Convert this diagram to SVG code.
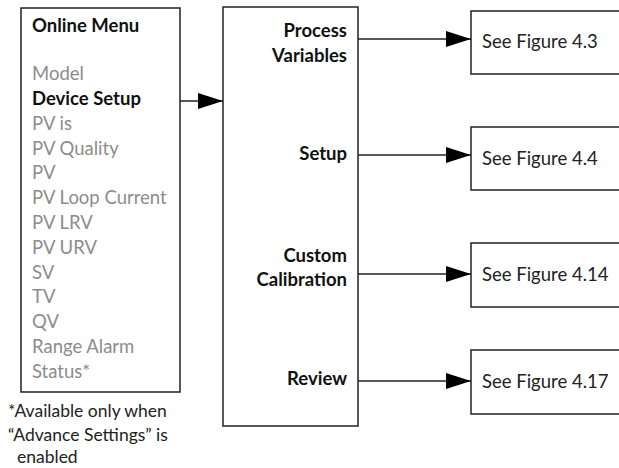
<svg xmlns="http://www.w3.org/2000/svg" width="619" height="468" viewBox="0 0 619 468">
<style>
.box{fill:#fff;stroke:#222;stroke-width:1.5}
.edge{fill:none;stroke:#222;stroke-width:1.3}
.t{font-family:Lato,"Liberation Sans",sans-serif;font-size:18.5px}
.f{font-size:17.5px}
.b{font-weight:bold;fill:#111}
.g{fill:#8c8c8c}
.k{fill:#222}
</style>
<defs>
<marker id="ah" markerUnits="userSpaceOnUse" markerWidth="25" markerHeight="16" refX="25" refY="8" orient="auto">
<path d="M0,0 L25,8 L0,16 Z" fill="#000"/>
</marker>
</defs>
<g id="online-menu">
<rect class="box" x="21" y="8" width="159" height="384"/>
<text class="t b" x="32" y="32">Online Menu</text>
<text class="t g" x="32" y="80">Model</text>
<text class="t b" x="32" y="105">Device Setup</text>
<text class="t g" x="32" y="129.7">PV is</text>
<text class="t g" x="32" y="154.5">PV Quality</text>
<text class="t g" x="32" y="179.3">PV</text>
<text class="t g" x="32" y="204">PV Loop Current</text>
<text class="t g" x="32" y="229">PV LRV</text>
<text class="t g" x="32" y="253.7">PV URV</text>
<text class="t g" x="32" y="278.5">SV</text>
<text class="t g" x="32" y="303.3">TV</text>
<text class="t g" x="32" y="328">QV</text>
<text class="t g" x="32" y="352.9">Range Alarm</text>
<text class="t g" x="32" y="377.7">Status*</text>
</g>
<g id="footnote">
<text class="t f k" x="8" y="417">*Available only when</text>
<text class="t f k" x="8" y="441">“Advance Settings” is</text>
<text class="t f k" x="17" y="463">enabled</text>
</g>
<g id="device-setup">
<rect class="box" x="223" y="7" width="135" height="419"/>
<text class="t b" text-anchor="end" x="347" y="37">Process</text>
<text class="t b" text-anchor="end" x="347" y="62">Variables</text>
<text class="t b" text-anchor="end" x="347" y="160">Setup</text>
<text class="t b" text-anchor="end" x="347" y="261.6">Custom</text>
<text class="t b" text-anchor="end" x="347" y="285.7">Calibration</text>
<text class="t b" text-anchor="end" x="347" y="385">Review</text>
</g>
<g id="fig-4-3">
<rect class="box" x="471" y="11" width="160" height="63"/>
<text class="t k" x="482" y="48">See Figure 4.3</text>
</g>
<g id="fig-4-4">
<rect class="box" x="471" y="127" width="160" height="63"/>
<text class="t k" x="482" y="164.5">See Figure 4.4</text>
</g>
<g id="fig-4-14">
<rect class="box" x="471" y="243" width="160" height="64"/>
<text class="t k" x="482" y="281">See Figure 4.14</text>
</g>
<g id="fig-4-17">
<rect class="box" x="471" y="350" width="160" height="64"/>
<text class="t k" x="482" y="388">See Figure 4.17</text>
</g>
<g id="connectors">
<line class="edge" x1="180" y1="101" x2="223" y2="101" marker-end="url(#ah)"/>
<line class="edge" x1="358" y1="39" x2="471" y2="39" marker-end="url(#ah)"/>
<line class="edge" x1="358" y1="155" x2="471" y2="155" marker-end="url(#ah)"/>
<line class="edge" x1="358" y1="274" x2="471" y2="274" marker-end="url(#ah)"/>
<line class="edge" x1="358" y1="381" x2="471" y2="381" marker-end="url(#ah)"/>
</g>
</svg>
